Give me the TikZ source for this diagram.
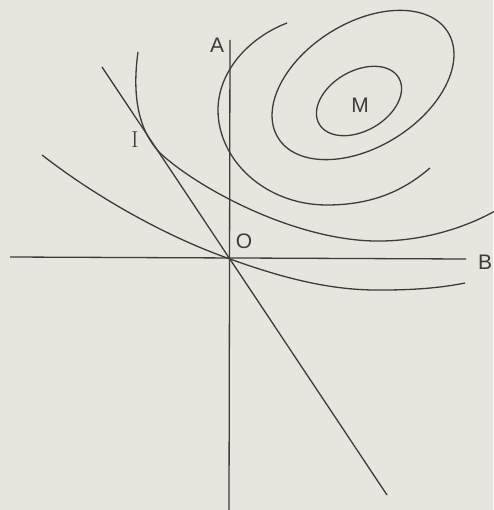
\documentclass[tikz,border=0pt]{standalone}
\usepackage{fontspec}
\newfontfamily\lblfont{Liberation Sans}
\usepackage{xcolor}
\usetikzlibrary{positioning}

\definecolor{paper}{HTML}{E7E5DE}
\definecolor{ink}{HTML}{3C3C3C}

\begin{document}
\begin{tikzpicture}[x=1pt, y=-1pt,
    every node/.style={inner sep=0pt, text=ink},
    axislabel/.style={font=\lblfont\fontsize{21}{21}\selectfont},
    pointlabel/.style={font=\rmfamily\fontsize{23}{23}\selectfont},
    axisline/.style={line width=1.3pt, draw=ink},
    contour/.style={line width=1.3pt, draw=ink},
]

% -------- paper --------
\fill[paper] (0,0) rectangle (493,510);
\useasboundingbox (0,0) rectangle (493,510);

% -------- axes --------
\coordinate (Atop) at (230,40);
\coordinate (Abot) at (229,510);
\coordinate (Bleft) at (10,257);
\coordinate (Bright) at (466,259);
\draw[axisline] (Atop) -- (Abot);
\draw[axisline] (Bleft) -- (Bright);

\node[axislabel] (A) at (217,45) {A};
\node[axislabel] (B) at (485,262) {B};
\node[axislabel] (O) at (244,241) {O};

% -------- line through I and O --------
\coordinate (Ltop) at (102,67);
\coordinate (Lbot) at (387,495);
\draw[axisline] (Ltop) -- (Lbot);
\node[pointlabel] (I) at (135,140) {I};

% -------- closed contours round M --------
\draw[contour, rotate around={32:(363,85)}]
  (363,85) ellipse [x radius=100, y radius=62];
\draw[contour, rotate around={30:(359,101)}]
  (359,101) ellipse [x radius=46, y radius=30];
\node[axislabel] (M) at (360,105) {M};

% -------- open contours --------
% outer curve, touching the line at I
\draw[contour] (138,52) .. controls (132,95) and (138,130) .. (160,153)
  .. controls (200,190) and (300,243) .. (383,241)
  .. controls (430,240) and (470,225) .. (495,211);
% curve crossing A twice
\draw[contour] (287,23) .. controls (248,38) and (218,72) .. (218,110)
  .. controls (218,160) and (265,205) .. (327,205)
  .. controls (380,205) and (410,185) .. (430,168);
% lowest curve, through O
\draw[contour] (42,155) .. controls (100,200) and (170,238) .. (230,259)
  .. controls (280,277) and (330,291) .. (383,290)
  .. controls (420,290) and (445,287) .. (465,283);

\end{tikzpicture}
\end{document}
